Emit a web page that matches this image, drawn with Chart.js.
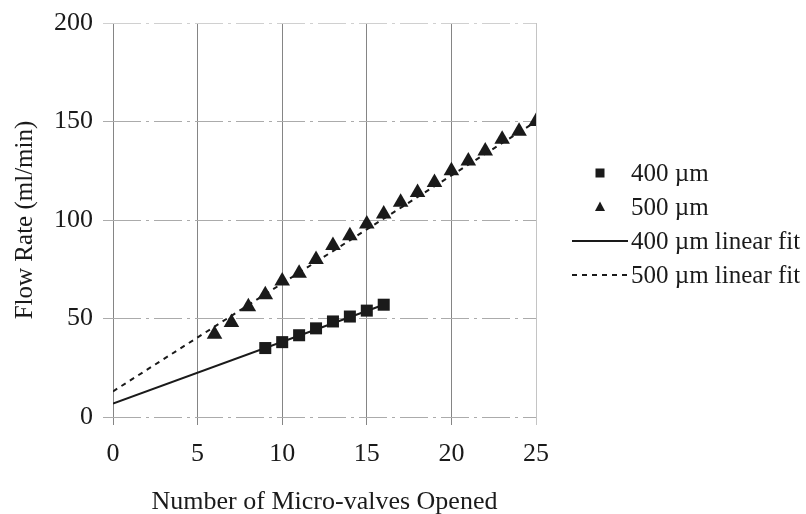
<!DOCTYPE html>
<html><head><meta charset="utf-8">
<script src="https://cdn.jsdelivr.net/npm/chart.js@4"></script>
<style>html,body{margin:0;padding:0;background:#fff}#wrap{width:806px;height:514px}</style>
</head><body><div id="wrap"><canvas id="c" width="806" height="514"></canvas></div>
<script>
const valves400 = [9, 10, 11, 12, 13, 14, 15, 16];
const flow400 = [35, 38, 41.5, 45, 48.5, 51, 54, 57];
const valves500 = [6, 7, 8, 9, 10, 11, 12, 13, 14, 15, 16, 17, 18, 19, 20, 21, 22, 23, 24, 25];
const flow500 = [42, 48, 56, 62, 69, 73, 80, 87, 92, 98, 103, 109, 114, 119, 125, 130, 135, 141, 145, 150];
const fit400X = [0, 16];
const fit400Y = [6.8, 57];
const fit500X = [0, 25];
const fit500Y = [13, 150];
const xTicks = [0, 5, 10, 15, 20, 25];
const yTicks = [0, 50, 100, 150, 200];
const seriesNames = ['400 \u00b5m', '500 \u00b5m', '400 \u00b5m linear fit', '500 \u00b5m linear fit'];
const xTitle = 'Number of Micro-valves Opened';
const yTitle = 'Flow Rate (ml/min)';

const pts = (xs, ys) => xs.map((x, i) => ({x: x, y: ys[i]}));
const INK = '#1a1a1a';
const FONT = '"Liberation Serif", "Times New Roman", serif';

// legend drawn beside the plot, reading each dataset's label and style
const sideLegend = {
  id: 'sideLegend',
  afterDraw(chart) {
    const ctx = chart.ctx;
    const opts = chart.options.plugins.sideLegend;
    ctx.save();
    ctx.font = '25px ' + FONT;
    ctx.textBaseline = 'middle';
    ctx.textAlign = 'left';
    chart.data.datasets.forEach((ds, i) => {
      const y = opts.top + i * opts.step;
      const cx = opts.symbolX;
      ctx.fillStyle = ds.backgroundColor;
      ctx.strokeStyle = ds.borderColor;
      if (ds.pointStyle === 'rect') {
        ctx.fillRect(cx - 4.5, y - 4.5, 9, 9);
      } else if (ds.pointStyle === 'triangle') {
        ctx.beginPath(); ctx.moveTo(cx, y - 5.5); ctx.lineTo(cx + 5, y + 4); ctx.lineTo(cx - 5, y + 4); ctx.closePath(); ctx.fill();
      } else {
        ctx.lineWidth = ds.borderWidth;
        ctx.setLineDash(ds.borderDash || []);
        ctx.beginPath(); ctx.moveTo(cx - 28, y); ctx.lineTo(cx + 28, y); ctx.stroke();
        ctx.setLineDash([]);
      }
      ctx.fillStyle = INK;
      ctx.fillText(ds.label, opts.textX, y + 1);
    });
    ctx.restore();
  }
};

new Chart(document.getElementById('c'), {
  type: 'scatter',
  plugins: [sideLegend],
  data: {
    datasets: [
      {label: seriesNames[0], data: pts(valves400, flow400), pointStyle: 'rect', pointRadius: 8.5, pointHoverRadius: 8.5,
       backgroundColor: INK, borderColor: INK, borderWidth: 0, showLine: false},
      {label: seriesNames[1], data: pts(valves500, flow500), pointStyle: 'triangle', pointRadius: 9, pointHoverRadius: 9,
       backgroundColor: INK, borderColor: INK, borderWidth: 0, showLine: false},
      {label: seriesNames[2], data: pts(fit400X, fit400Y), pointStyle: 'line', pointRadius: 0, showLine: true,
       borderColor: INK, backgroundColor: INK, borderWidth: 2},
      {label: seriesNames[3], data: pts(fit500X, fit500Y), pointStyle: 'line', pointRadius: 0, showLine: true,
       borderColor: INK, backgroundColor: INK, borderWidth: 2, borderDash: [5, 5]}
    ]
  },
  options: {
    responsive: false,
    animation: false,
    layout: {padding: {left: 10, right: 270, top: 4, bottom: 0}},
    plugins: {
      tooltip: {enabled: false},
      legend: {display: false},
      sideLegend: {top: 173, step: 34, symbolX: 600, textX: 631}
    },
    scales: {
      x: {
        type: 'linear', min: 0, max: 25,
        afterBuildTicks: (s) => { s.ticks = xTicks.map(v => ({value: v})); },
        ticks: {color: INK, font: {family: FONT, size: 26, lineHeight: 1}, padding: 16},
        grid: {color: (c) => (c.tick && c.tick.value === 25 ? '#c4c4c4' : '#858585'), lineWidth: 1, tickLength: 8},
        border: {display: false},
        title: {display: true, text: xTitle, color: INK, font: {family: FONT, size: 26, lineHeight: 1}, padding: {top: 6, bottom: -1}}
      },
      y: {
        type: 'linear', min: 0, max: 200,
        afterBuildTicks: (s) => { s.ticks = yTicks.map(v => ({value: v})); },
        ticks: {color: INK, font: {family: FONT, size: 26, lineHeight: 1}, padding: 10},
        grid: {color: (c) => (c.tick && c.tick.value === 200 ? '#d0d0d0' : '#ababab'), lineWidth: 1, tickLength: 10},
        border: {display: false, dash: [28, 5, 3, 5]},
        title: {display: true, text: yTitle, color: INK, font: {family: FONT, size: 25}, padding: {top: 0, bottom: 4}}
      }
    }
  }
});
</script></body></html>
